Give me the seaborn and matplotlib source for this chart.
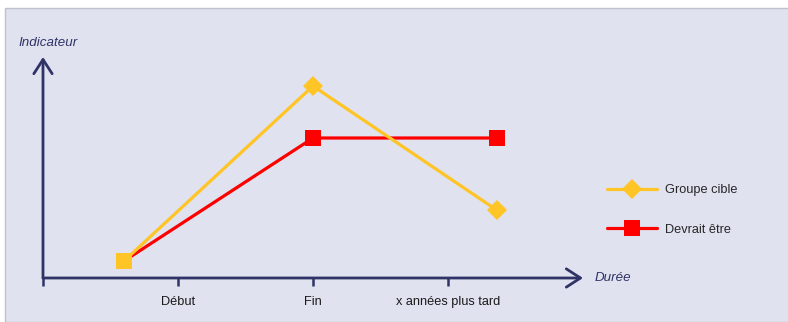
import matplotlib
matplotlib.use("Agg")
import matplotlib.pyplot as plt
from matplotlib.patches import Rectangle
from matplotlib.lines import Line2D
import seaborn as sns
import pandas as pd

# Data
x_labels = ["Début", "Fin", "x années plus tard"]
x_ticks = [1, 2, 3]
x_points = [0.6, 2.0, 3.36]
groupe_cible = [0.85, 9.6, 3.4]
devrait_etre = [0.85, 7.0, 7.0]
series_names = ["Groupe cible", "Devrait être"]

YELLOW = "#FFC425"
RED = "#FF0000"
NAVY = "#2F3366"
BG = "#E0E2EF"

sns.set_theme(style="white")
plt.rcParams["font.family"] = ["Liberation Sans", "DejaVu Sans"]

W, H = 788, 322
fig = plt.figure(figsize=(W / 100, H / 100), dpi=100)
fig.patch.set_facecolor("white")
fig.add_artist(Rectangle((5 / W, 0), (W - 4) / W, (H - 8) / H,
                         transform=fig.transFigure, facecolor=BG,
                         edgecolor="#BFC1CE", linewidth=1, zorder=0))

# Axes area: origin at (43, 278) px, arrow tips at x=583 px and y=57 px
x0, y0, x1, y1 = 43, 278, 583, 57
ax = fig.add_axes([x0 / W, (H - y0) / H, (x1 - x0) / W, (y0 - y1) / H])
ax.set_facecolor("none")
ax.set_xlim(0, 4.0)
ax.set_ylim(0, 11.05)
for s in ax.spines.values():
    s.set_visible(False)

df = pd.DataFrame({"x": x_points, "groupe": groupe_cible, "devrait": devrait_etre})

sns.lineplot(data=df, x="x", y="devrait", ax=ax, color=RED, linewidth=2.3,
             marker="s", markersize=11, markeredgewidth=0, zorder=3)
sns.lineplot(data=df, x="x", y="groupe", ax=ax, color=YELLOW, linewidth=2.3,
             marker="D", markersize=10, markeredgewidth=0, markevery=[1, 2],
             zorder=4)
sns.scatterplot(x=x_points[:1], y=groupe_cible[:1], ax=ax, color=YELLOW,
                marker="s", s=125, linewidth=0, zorder=5)

# Axis arrows
arrow = dict(arrowstyle="->,head_length=0.85,head_width=0.55", lw=2,
             color=NAVY, shrinkA=0, shrinkB=0)
ax.annotate("", xy=(4.0, 0), xytext=(0, 0), xycoords="data",
            arrowprops=arrow, annotation_clip=False)
ax.annotate("", xy=(0, 11.05), xytext=(0, 0), xycoords="data",
            arrowprops=arrow, annotation_clip=False)

ax.set_xticks([0] + x_ticks)
ax.set_xticklabels([""] + x_labels)
ax.set_yticks([])
ax.tick_params(axis="x", bottom=True, direction="out", length=6, width=1.8,
               color=NAVY, labelsize=9.2, labelcolor="#1a1a1a", pad=7)
ax.set_xlabel("")
ax.set_ylabel("")

fig.text(18 / W, (H - 43) / H, "Indicateur", fontsize=9.6, style="italic",
         color=NAVY, va="center", ha="left")
fig.text(595 / W, (H - 278) / H, "Durée", fontsize=9.6, style="italic",
         color=NAVY, va="center", ha="left")

handles = [
    Line2D([], [], color=YELLOW, lw=2.3, marker="D", markersize=10, markeredgewidth=0),
    Line2D([], [], color=RED, lw=2.3, marker="s", markersize=11, markeredgewidth=0),
]
fig.legend(handles, series_names, loc="center left",
           bbox_to_anchor=(607 / W, (H - 210) / H), frameon=False,
           fontsize=9.2, handlelength=3.95, handletextpad=0.62,
           labelspacing=2.15, borderpad=0, borderaxespad=0)

fig.savefig("out.png", dpi=100)
